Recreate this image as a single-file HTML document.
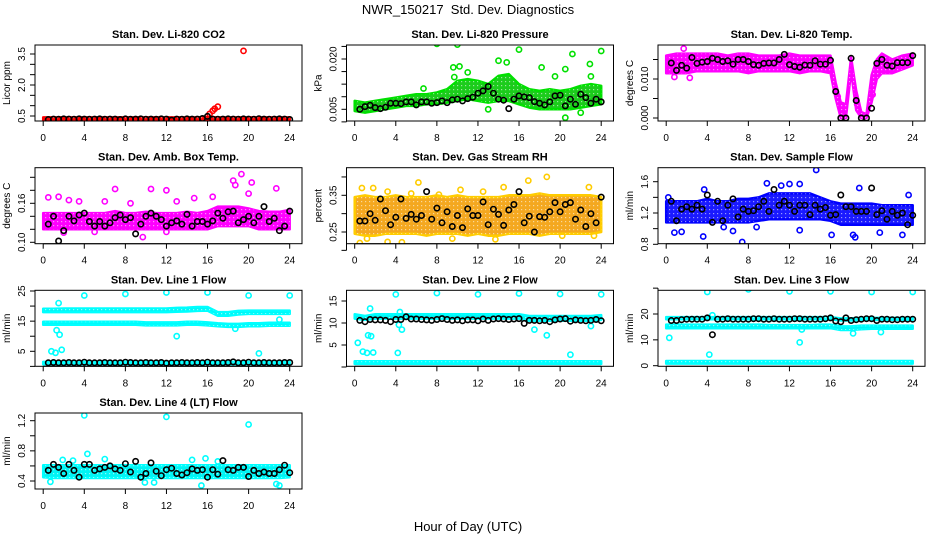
<!DOCTYPE html>
<html><head><meta charset="utf-8"><style>
html,body{margin:0;padding:0;background:#fff}
svg{display:block;font-family:"Liberation Sans",sans-serif}
</style></head><body>
<svg id="fig" width="936" height="540" viewBox="0 0 936 540">
<defs>
<pattern id="speck" width="4" height="4" patternUnits="userSpaceOnUse"><rect x="1" y="1" width="1.2" height="1.2" fill="#fff" opacity="0.55"/></pattern>
</defs>
<rect x="0" y="0" width="936" height="540" fill="#fff"/>
<text x="468" y="14" text-anchor="middle" font-size="13">NWR_150217&#160; Std. Dev. Diagnostics</text>
<text x="468" y="531" text-anchor="middle" font-size="13">Hour of Day (UTC)</text>
</svg>
<script>
const BH = [0.5,1,1.5,2,2.5,3,3.5,4,4.5,5,5.5,6,6.5,7,7.5,8,8.5,9,9.5,10,10.5,11,11.5,12,12.5,13,13.5,14,14.5,15,15.5,16,16.5,17,17.5,18,18.5,19,19.5,20,20.5,21,21.5,22,22.5,23,23.5,24];
const H25 = [0,1,2,3,4,5,6,7,8,9,10,11,12,13,14,15,16,17,18,19,20,21,22,23,24];
const XTICKS = [0,4,8,12,16,20,24];

// Panel 1 CO2
const p1Black = [0.33,0.35,0.34,0.36,0.35,0.34,0.36,0.35,0.34,0.35,0.36,0.34,0.35,0.35,0.33,0.36,0.34,0.35,0.36,0.34,0.35,0.34,0.36,0.35,0.3,0.35,0.34,0.36,0.35,0.35,0.38,0.48,0.35,0.34,0.35,0.36,0.35,0.34,0.36,0.35,0.34,0.37,0.35,0.34,0.35,0.36,0.35,0.33];
const p1Lo = [0.27,0.27,0.27,0.27,0.27,0.27,0.27,0.27,0.27,0.27,0.27,0.27,0.27,0.27,0.27,0.27,0.27,0.27,0.27,0.27,0.27,0.27,0.27,0.27,0.27];
const p1Hi = [0.43,0.43,0.43,0.43,0.43,0.43,0.43,0.43,0.43,0.43,0.43,0.43,0.43,0.43,0.43,0.43,0.45,0.43,0.43,0.43,0.43,0.43,0.43,0.43,0.43];
const p1OutX = [16.2,16.5,16.7,17,19.5];
const p1OutY = [0.6,0.75,0.85,0.95,3.65];

// Panel 2 Pressure
const p2Black = [.005,.0058,.0062,.0055,.0052,.0056,.0068,.0068,.0067,.0072,.0072,.0063,.0072,.0072,.0068,.0070,.0075,.0070,.0078,.0080,.0075,.0082,.0086,.0098,.0105,.0118,.0098,.0080,.0077,.0052,.0080,.0090,.0087,.0085,.0073,.0068,.0063,.0072,.0090,.0092,.0060,.0080,.0065,.0095,.0085,.0068,.0080,.0072];
const p2Lo = [.0045,.004,.0045,.005,.0055,.006,.006,.0065,.0065,.007,.0075,.008,.0075,.007,.0075,.0075,.0065,.0055,.005,.005,.005,.005,.0055,.006,.0065];
const p2Hi = [.0075,.007,.0075,.008,.0085,.009,.0095,.0095,.010,.011,.0135,.014,.0135,.0125,.015,.0155,.0125,.011,.0105,.011,.0105,.011,.012,.0125,.012];
const p2OutX = [8,10,16,21.2,24,22.9,14,14.8,18.2,20.5,9.6,10.2,19.5,20.5,22,13,6.7,9.7,11,23];
const p2OutY = [.0245,.0243,.0228,.0215,.0224,.0185,.0195,.019,.0175,.017,.0175,.0178,.0148,.0025,.004,.005,.0112,.0146,.016,.0148];

// Panel 3 Li-820 Temp
const p3BandX = [0,1,2,3,4,5,6,7,8,9,10,11,12,13,14,15,16,16.5,17,17.5,18,18.5,19,19.5,20,20.5,21,22,23,24];
const p3Lo = [.0115,.0115,.0115,.012,.012,.012,.012,.012,.0115,.012,.012,.012,.012,.0115,.012,.012,.0115,.005,0,0,.012,.002,0,0,.004,.01,.0115,.0115,.0125,.0135];
const p3Hi = [.016,.0165,.0165,.0165,.0165,.0165,.016,.0165,.0165,.016,.016,.016,.0165,.016,.016,.016,.016,.009,.004,.0035,.0155,.007,.0015,.001,.011,.015,.0165,.015,.016,.0165];
const p3Black = [.0141,.0122,.0135,.0128,.0155,.0140,.0143,.0145,.0153,.0150,.0145,.0147,.0138,.0150,.0150,.0145,.0137,.0135,.0140,.0141,.0141,.0150,.0163,.0137,.0132,.0130,.0136,.0135,.0147,.0138,.0138,.0148,.0068,0,0,.0153,.0045,0,0,.0025,.0140,.0150,.0135,.0133,.0142,.0142,.0142,.0160];
const p3OutX = [1.7,2.3,0.8,16.7,17.2,18.6,20.1];
const p3OutY = [.0178,.0103,.0105,.0055,.0012,.0035,.006];

// Panel 4 Amb Box Temp
const p4Lo = [.12,.12,.12,.12,.12,.12,.12,.12,.12,.12,.12,.12,.12,.12,.12,.12,.12,.125,.125,.125,.125,.12,.12,.12,.12];
const p4Hi = [.145,.145,.145,.145,.145,.145,.145,.148,.145,.145,.147,.145,.145,.145,.147,.145,.148,.155,.155,.155,.152,.148,.147,.147,.15];
const p4Black = [.128,.14,.102,.118,.14,.133,.142,.145,.132,.125,.132,.125,.130,.138,.142,.135,.138,.113,.128,.14,.145,.14,.135,.125,.13,.133,.128,.143,.125,.132,.132,.128,.133,.145,.137,.147,.148,.13,.135,.14,.13,.14,.155,.132,.137,.118,.125,.148];
const p4OutX = [0.5,1.5,2.5,3.5,7,10.5,12,14.7,18.5,19.3,18.7,20.3,22.7,6,20,16.5,9.7,12,5,2,8.5,13];
const p4OutY = [.169,.17,.165,.163,.182,.182,.180,.168,.195,.205,.188,.192,.183,.163,.175,.17,.108,.116,.116,.115,.16,.163];

// Panel 5 Gas Stream RH
const p5Lo = [.245,.24,.24,.245,.245,.245,.245,.24,.245,.245,.245,.24,.245,.24,.24,.245,.245,.245,.24,.245,.245,.245,.245,.245,.25];
const p5Hi = [.345,.35,.345,.345,.35,.345,.345,.345,.35,.345,.35,.345,.345,.345,.345,.35,.35,.35,.355,.35,.35,.35,.35,.35,.345];
const p5Black = [.28,.28,.30,.282,.34,.308,.27,.29,.34,.287,.298,.285,.295,.36,.285,.315,.275,.305,.265,.295,.262,.313,.295,.295,.332,.27,.312,.298,.268,.31,.325,.36,.275,.293,.25,.292,.29,.305,.33,.305,.325,.33,.285,.31,.265,.30,.275,.345];
const p5OutX = [0.5,0.7,1.8,3.2,4.6,3.2,6.2,16.9,18.7,22.8,14.5,10.3,8.2,12.5,1.2,5.5,9.5,20.2,23.3,13.7];
const p5OutY = [.22,.37,.37,.36,.222,.223,.385,.39,.40,.372,.372,.365,.352,.36,.232,.355,.232,.24,.24,.23];

// Panel 6 Sample Flow
const p6Lo = [1.08,1.08,1.08,1.08,1.08,1.08,1.08,1.08,1.08,1.1,1.12,1.12,1.12,1.12,1.12,1.12,1.1,1.05,1.05,1.05,1.05,1.05,1.05,1.05,1.05];
const p6Hi = [1.35,1.35,1.35,1.35,1.38,1.35,1.35,1.38,1.38,1.4,1.45,1.45,1.45,1.45,1.45,1.4,1.35,1.32,1.32,1.32,1.32,1.3,1.3,1.3,1.3];
const p6Black = [1.35,1.1,1.25,1.28,1.25,1.3,1.25,1.43,1.08,1.35,1.1,1.3,1.38,1.15,1.25,1.22,1.23,1.28,1.35,1.22,1.5,1.3,1.35,1.3,1.22,1.3,1.3,1.18,1.3,1.25,1.27,1.17,1.18,1.43,1.28,1.28,1.22,1.22,1.22,1.52,1.18,1.23,1.12,1.22,1.17,1.2,1.05,1.17];
const p6OutX = [0.8,3.6,7.4,6.5,14.6,9.8,12,13,18.8,16.1,18.2,18.4,23,3.7,23.6,13,20.8,1.5,0.2,5.6,8.8,11.2];
const p6OutY = [0.95,0.9,0.83,0.97,1.75,1.58,1.57,1.57,1.52,0.92,0.92,0.89,0.92,1.5,1.43,0.98,0.95,0.96,1.4,1.02,1.02,1.55];

// Panel 7 Line 1 Flow
const p7LoA = [18,18,18,18,18,18,18,18,18,18,18,18,18,18.1,18.2,18.4,18.5,16.8,16.8,17.2,17.4,17.4,17.4,17.4,17.4];
const p7HiA = [19.1,19.1,19.2,19.2,19.2,19.2,19.2,19.2,19.2,19.2,19.2,19.2,19.2,19.4,19.5,19.7,19.7,18,18,18.4,18.5,18.5,18.5,18.5,18.5];
const p7LoB = [13.8,13.8,13.8,13.8,13.8,13.8,13.8,13.8,13.8,13.8,13.6,13.6,13.6,13.6,13.8,13.8,13.6,13.3,13.1,13.1,13.3,13.3,13.5,13.5,13.5];
const p7HiB = [14.8,14.8,14.8,14.8,14.8,14.8,14.8,14.8,14.8,14.8,14.6,14.6,14.6,14.6,14.8,14.8,14.6,14.3,14.1,14.1,14.3,14.3,14.5,14.5,14.5];
const p7LoC = [0.7,0.7,0.7,0.7,0.7,0.7,0.7,0.7,0.7,0.7,0.7,0.7,0.7,0.7,0.7,0.7,0.7,0.7,0.7,0.7,0.7,0.7,0.7,0.7,0.7];
const p7HiC = [1.5,1.5,1.5,1.5,1.5,1.5,1.5,1.5,1.5,1.5,1.5,1.5,1.5,1.5,1.5,1.5,1.5,1.5,1.5,1.5,1.5,1.5,1.5,1.5,1.5];
const p7Black = [1.2,1.3,1.2,1.2,1.3,1.2,1.2,1.4,1.2,1.2,1.2,1.3,1.2,1.2,1.2,1.4,1.3,1.2,1.2,1.3,1.2,1.2,1.3,1.1,1.2,1.2,1.3,1.2,1.2,1.3,1.2,1.4,1.2,1.2,1.2,1.3,1.5,1.2,1.2,1.4,1.2,1.2,1.3,1.2,1.2,1.2,1.3,1.3];
const p7OutX = [4,8,12,16,20,24,1.5,1.6,1.3,1.8,0.8,1.2,13,21,23,18.7];
const p7OutY = [23.5,24,24.5,24.5,23.5,23.5,21,10.5,12,5.5,5,4.5,10,4.3,15.5,12.5];

// Panel 8 Line 2 Flow
const p8LoA = [11,10.7,11,11,11,11,11,11,11,11,11,11,11,11,11,11,11,10.5,10.5,10.5,10.5,10.5,10.5,10.5,10.7];
const p8HiA = [12,11.6,12,12,12,12,12,12,12,12,12,12,12,12,12,12,12,11.6,11.6,11.6,11.6,11.6,11.6,11.6,11.8];
const p8LoC = [0.7,0.7,0.7,0.7,0.7,0.7,0.7,0.7,0.7,0.7,0.7,0.7,0.7,0.7,0.7,0.7,0.7,0.7,0.7,0.7,0.7,0.7,0.7,0.7,0.7];
const p8HiC = [1.3,1.3,1.3,1.3,1.3,1.3,1.3,1.3,1.3,1.3,1.3,1.3,1.3,1.3,1.3,1.3,1.3,1.3,1.3,1.3,1.3,1.3,1.3,1.3,1.3];
const p8Black = [10.6,10.3,10.8,10.7,10.7,10.6,10.3,10.8,10.8,11.4,10.9,10.9,10.8,10.7,10.6,10.8,11,10.8,10.6,10.7,10.5,10.7,10.7,10.5,10.9,10.6,10.9,11,10.9,10.8,10.9,11,9.9,10.6,10.6,10.5,10.6,10.3,10.7,10.9,11,10.4,10.7,10.6,10.5,10.6,10.8,10.5];
const p8OutX = [4,8,12,16,20,24,1.5,0.3,0.8,1.2,1.8,1.3,1.6,4.2,4.3,4.4,17.5,18.7,21,23,4.6];
const p8OutY = [16.5,16.8,16.5,16.7,16.6,16.5,13.3,5.5,3.5,3.2,3.3,7.2,7,3.2,9.6,12.5,8.5,7.2,2.8,9.3,8.5];

// Panel 9 Line 3 Flow
const p9LoA = [18,18,18,18,18,18,18,18,18,18,18,18,18,18,18,18,18,17.5,17.5,17.7,17.7,17.7,17.7,17.7,17.7];
const p9HiA = [18.8,18.8,18.8,18.8,18.8,18.8,18.8,18.8,18.8,18.8,18.8,18.8,18.8,18.8,18.8,18.8,18.8,18.3,18.3,18.5,18.5,18.5,18.5,18.5,18.5];
const p9LoB = [14.5,14.5,14.5,14.5,14.5,14.5,14.5,14.5,14.5,14.5,14.5,14.5,14.5,14.5,14.5,14.5,14.5,13.8,13.8,14.1,14.3,14.3,14.3,14.3,14.3];
const p9HiB = [15.9,15.9,15.9,15.9,15.9,15.9,15.9,15.9,15.9,15.9,15.7,15.7,15.7,15.7,15.7,15.9,15.9,15.2,15.2,15.5,15.5,15.5,15.5,15.5,15.5];
const p9LoC = [0.8,0.8,0.8,0.8,0.8,0.8,0.8,0.8,0.8,0.8,0.8,0.8,0.8,0.8,0.8,0.8,0.8,0.8,0.8,0.8,0.8,0.8,0.8,0.8,0.8];
const p9HiC = [1.8,1.8,1.8,1.8,1.8,1.8,1.8,1.8,1.8,1.8,1.8,1.8,1.8,1.8,1.8,1.8,1.8,1.8,1.8,1.8,1.8,1.8,1.8,1.8,1.8];
const p9Black = [17.5,17.5,17.8,18,18,18,18,18.5,12,18,18,18.2,18,18,18,18,18.2,18.2,18,18,18.2,18,18,18,18.2,18.2,18,18,18,18,18.2,18.5,17.3,17,18.5,17.5,17.8,18,18.2,18.2,17.5,18,18,17.8,17.8,18,18,18];
const p9OutX = [4,8,12,16,20,24,0.3,4.2,13,13.2,18.2,20.9,4.5];
const p9OutY = [28.5,29.5,28.8,28.8,28.5,28.5,10.8,4.3,9,14,12.5,13,19.5];

// Panel 10 Line 4 (LT) Flow
const p10Lo = [0.45,0.44,0.44,0.44,0.44,0.44,0.44,0.44,0.44,0.44,0.44,0.44,0.44,0.44,0.44,0.44,0.44,0.44,0.44,0.44,0.44,0.44,0.44,0.44,0.45];
const p10Hi = [0.61,0.61,0.61,0.61,0.61,0.61,0.61,0.61,0.61,0.61,0.61,0.61,0.61,0.61,0.61,0.61,0.61,0.61,0.61,0.61,0.61,0.61,0.61,0.61,0.61];
const p10Black = [.54,.62,.58,.5,.62,.54,.45,.62,.62,.54,.56,.58,.60,.56,.54,.63,.52,.66,.45,.5,.64,.53,.47,.55,.57,.5,.48,.51,.56,.54,.55,.45,.55,.49,.67,.55,.54,.58,.58,.46,.54,.5,.52,.5,.5,.55,.61,.51];
const p10OutX = [4,12,20,4.3,6,15.8,17,15.4,22.7,23,1.9,2.9,0.7,9.9,10.8,14.5];
const p10OutY = [1.27,1.25,1.15,0.76,0.69,0.7,0.66,0.34,0.36,0.34,0.68,0.67,0.39,0.38,0.38,0.68];

const NS = 'http://www.w3.org/2000/svg';
const svg = document.getElementById('fig');
function mk(tag, attrs, parent){const e=document.createElementNS(NS,tag);for(const k in attrs)e.setAttribute(k,attrs[k]);(parent||svg).appendChild(e);return e;}
const COLS=[35,346.5,658], ROWS=[45,167.7,290.3,413], W=267, H=76;
function lin(v0,p0,v1,p1){return v=>p0+(v-v0)*(p1-p0)/(v1-v0);}

function panel(o){
  const L=COLS[o.c], T=ROWS[o.r];
  const g=mk('g',{});
  
  
  const xs=lin(0,L+8.2,24,L+8.2+246.5);
  const ys=lin(o.v0,o.p0,o.v1,o.p1);
  const clip='clip'+o.c+o.r;
  const cp=mk('clipPath',{id:clip},g);mk('rect',{x:L,y:T,width:W,height:H},cp);
  const pg=mk('g',{'clip-path':'url(#'+clip+')'},g);
  
  
  (o.bands||[]).forEach((b,bi)=>{
    const bx=b[0],lo=b[1],hi=b[2];
    let d='';
    for(let i=0;i<bx.length;i++)d+=(i?'L':'M')+xs(bx[i]).toFixed(1)+','+ys(hi[i]).toFixed(1);
    for(let i=bx.length-1;i>=0;i--)d+='L'+xs(bx[i]).toFixed(1)+','+ys(lo[i]).toFixed(1);
    const p=mk('path',{d:d+'Z',fill:o.band,stroke:o.col,'stroke-width':2.5,'stroke-linejoin':'round'},pg);
    
    
    const sp=mk('path',{d:d+'Z',fill:'url(#speck)'},pg);
    
    
  });
  o.ox.forEach((x,i)=>{
    const c=mk('circle',{cx:xs(x).toFixed(1),cy:ys(o.oy[i]).toFixed(1),r:2.6,fill:'none',stroke:o.col,'stroke-width':1.6},pg);
    
    
  });
  o.black.forEach((v,i)=>{
    const c=mk('circle',{cx:xs(BH[i]).toFixed(1),cy:ys(v).toFixed(1),r:2.7,fill:'none',stroke:'#000','stroke-width':1.6},pg);
    
    
  });
  const box=mk('rect',{x:L,y:T,width:W,height:H,fill:'none',stroke:'#000','stroke-width':1},g);
  
  
  const B=T+H;
  mk('line',{x1:xs(0),x2:xs(24),y1:B,y2:B,stroke:'#000'},g);
  XTICKS.forEach(t=>{
    mk('line',{x1:xs(t),x2:xs(t),y1:B,y2:B+5,stroke:'#000'},g);
    const tx=mk('text',{x:xs(t),y:B+20,'text-anchor':'middle','font-size':10},g);
    tx.textContent=t;
    
    
  });
  o.yt.forEach(t=>{
    const y=ys(t);
    mk('line',{x1:L-5,x2:L,y1:y,y2:y,stroke:'#000'},g);
  });
  mk('line',{x1:L,x2:L,y1:ys(o.yt[0]),y2:ys(o.yt[o.yt.length-1]),stroke:'#000'},g);
  o.yl.forEach((t,i)=>{
    const y=ys(t), x=L-10;
    const tx=mk('text',{x:x,y:y,'text-anchor':'middle','font-size':10,transform:'rotate(-90 '+x+' '+y+')'},g);
    tx.textContent=o.ylt[i];
    
    
  });
  const ay=T+H/2, ax=L-25;
  const at=mk('text',{x:ax,y:ay,'text-anchor':'middle','font-size':10,transform:'rotate(-90 '+ax+' '+ay+')'},g);
  at.textContent=o.ylab;
  
  
  const tt=mk('text',{x:L+W/2,y:T-7,'text-anchor':'middle','font-size':11,'font-weight':'bold'},g);
  tt.textContent=o.title;
  
  
}

panel({name:'panel-co2',c:0,r:0,title:'Stan. Dev. Li-820 CO2',ylab:'Licor ppm',v0:0.5,p0:116,v1:3.5,p1:54,
  yt:[0.5,1,1.5,2,2.5,3,3.5],yl:[0.5,2,3.5],ylt:['0.5','2.0','3.5'],col:'#ff0000',band:'#ff0000',
  bands:[[H25,p1Lo,p1Hi]],ox:p1OutX,oy:p1OutY,black:p1Black});
panel({name:'panel-pressure',c:1,r:0,title:'Stan. Dev. Li-820 Pressure',ylab:'kPa',v0:0.005,p0:109.3,v1:0.020,p1:59,
  yt:[0.005-0.00375,0.005,0.00875,0.0125,0.01625,0.020,0.02375],yl:[0.005,0.020],ylt:['0.005','0.020'],col:'#00e000',band:'#1ccc1c',
  bands:[[H25,p2Lo,p2Hi]],ox:p2OutX,oy:p2OutY,black:p2Black});
panel({name:'panel-li820-temp',c:2,r:0,title:'Stan. Dev. Li-820 Temp.',ylab:'degrees C',v0:0,p0:118,v1:0.010,p1:79,
  yt:[0,0.005,0.010,0.015],yl:[0,0.010],ylt:['0.000','0.010'],col:'#ff00ff',band:'#ff00ff',
  bands:[[p3BandX,p3Lo,p3Hi]],ox:p3OutX,oy:p3OutY,black:p3Black});
panel({name:'panel-amb-box-temp',c:0,r:1,title:'Stan. Dev. Amb. Box Temp.',ylab:'degrees C',v0:0.10,p0:242.3,v1:0.16,p1:203.3,
  yt:[0.10,0.12,0.14,0.16,0.18,0.20],yl:[0.10,0.16],ylt:['0.10','0.16'],col:'#ff00ff',band:'#ff00ff',
  bands:[[H25,p4Lo,p4Hi]],ox:p4OutX,oy:p4OutY,black:p4Black});
panel({name:'panel-gas-stream-rh',c:1,r:1,title:'Stan. Dev. Gas Stream RH',ylab:'percent',v0:0.25,p0:232,v1:0.35,p1:195.3,
  yt:[0.20,0.25,0.30,0.35,0.40],yl:[0.25,0.35],ylt:['0.25','0.35'],col:'#ffcc00',band:'#f4a820',
  bands:[[H25,p5Lo,p5Hi]],ox:p5OutX,oy:p5OutY,black:p5Black});
panel({name:'panel-sample-flow',c:2,r:1,title:'Stan. Dev. Sample Flow',ylab:'ml/min',v0:0.8,p0:244.3,v1:1.6,p1:181.7,
  yt:[0.8,1.0,1.2,1.4,1.6],yl:[0.8,1.2,1.6],ylt:['0.8','1.2','1.6'],col:'#0000ff',band:'#1a1aff',
  bands:[[H25,p6Lo,p6Hi]],ox:p6OutX,oy:p6OutY,black:p6Black});
panel({name:'panel-line1-flow',c:0,r:2,title:'Stan. Dev. Line 1 Flow',ylab:'ml/min',v0:5,p0:351.3,v1:25,p1:291,
  yt:[0,5,10,15,20,25],yl:[5,15,25],ylt:['5','15','25'],col:'#00ffff',band:'#00f4f4',
  bands:[[H25,p7LoA,p7HiA],[H25,p7LoB,p7HiB],[H25,p7LoC,p7HiC]],ox:p7OutX,oy:p7OutY,black:p7Black});
panel({name:'panel-line2-flow',c:1,r:2,title:'Stan. Dev. Line 2 Flow',ylab:'ml/min',v0:5,p0:345,v1:15,p1:301,
  yt:[0,5,10,15],yl:[5,10,15],ylt:['5','10','15'],col:'#00ffff',band:'#00f4f4',
  bands:[[H25,p8LoA,p8HiA],[H25,p8LoC,p8HiC]],ox:p8OutX,oy:p8OutY,black:p8Black});
panel({name:'panel-line3-flow',c:2,r:2,title:'Stan. Dev. Line 3 Flow',ylab:'ml/min',v0:0,p0:365.7,v1:20,p1:314,
  yt:[0,10,20,30],yl:[0,10,20],ylt:['0','10','20'],col:'#00ffff',band:'#00f4f4',
  bands:[[H25,p9LoA,p9HiA],[H25,p9LoB,p9HiB],[H25,p9LoC,p9HiC]],ox:p9OutX,oy:p9OutY,black:p9Black});
panel({name:'panel-line4-flow',c:0,r:3,title:'Stan. Dev. Line 4 (LT) Flow',ylab:'ml/min',v0:0.4,p0:481,v1:1.2,p1:420.7,
  yt:[0.4,0.6,0.8,1.0,1.2],yl:[0.4,0.8,1.2],ylt:['0.4','0.8','1.2'],col:'#00ffff',band:'#00f4f4',
  bands:[[H25,p10Lo,p10Hi]],ox:p10OutX,oy:p10OutY,black:p10Black});
</script>
</body></html>
